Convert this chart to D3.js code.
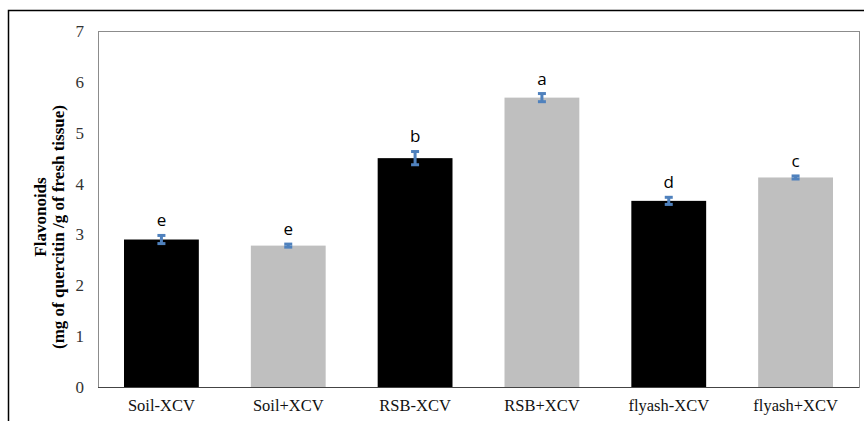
<!DOCTYPE html>
<html>
<head>
<meta charset="utf-8">
<script src="https://cdn.jsdelivr.net/npm/d3@7"></script>
<style>
  html, body { margin: 0; padding: 0; background: #fff; }
  svg { display: block; }
  .serif { font-family: 'Liberation Serif', 'Times New Roman', serif; }
</style>
</head>
<body>
<svg id="chart" width="864" height="421"></svg>
<script>
// Flavonoid content per treatment
const categories = ["Soil-XCV", "Soil+XCV", "RSB-XCV", "RSB+XCV", "flyash-XCV", "flyash+XCV"];
const flavonoids = [2.90, 2.78, 4.50, 5.69, 3.66, 4.12];
const errors = [0.08, 0.03, 0.13, 0.08, 0.07, 0.03];
const letters = ["e", "e", "b", "a", "d", "c"];
const yTicks = [0, 1, 2, 3, 4, 5, 6, 7];
const barColors = ["#000000", "#bfbfbf"];

const svg = d3.select("#chart");
const plot = { left: 98, top: 31, right: 859, bottom: 387 };

const x = d3.scaleBand()
  .domain(categories)
  .range([plot.left, plot.right])
  .paddingInner(0.41)
  .paddingOuter(0.205);

const y = d3.scaleLinear()
  .domain([0, 7])
  .range([plot.bottom, plot.top]);

// outer frame of the chart
svg.append("rect")
  .attr("x", 8.5).attr("y", 10.5)
  .attr("width", 900).attr("height", 500)
  .attr("fill", "none")
  .attr("stroke", "#000")
  .attr("stroke-width", 1.5);

// plot area border
svg.append("rect")
  .attr("x", plot.left + 0.5).attr("y", plot.top + 0.5)
  .attr("width", plot.right - plot.left)
  .attr("height", plot.bottom - plot.top)
  .attr("fill", "none")
  .attr("stroke", "#8c8c8c")
  .attr("stroke-width", 1);

// bars
svg.append("g").selectAll("rect")
  .data(categories)
  .join("rect")
  .attr("x", d => x(d))
  .attr("y", (d, i) => y(flavonoids[i]))
  .attr("width", x.bandwidth())
  .attr("height", (d, i) => y(0) - y(flavonoids[i]))
  .attr("fill", (d, i) => barColors[i % 2]);

// baseline
svg.append("line")
  .attr("x1", plot.left).attr("x2", plot.right)
  .attr("y1", y(0) + 0.5).attr("y2", y(0) + 0.5)
  .attr("stroke", "#444").attr("stroke-width", 1);

// error bars
const eb = svg.append("g")
  .attr("stroke", "#4f81bd")
  .attr("stroke-width", 3);
categories.forEach((c, i) => {
  const cx = x(c) + x.bandwidth() / 2;
  const hi = y(flavonoids[i] + errors[i]);
  const lo = y(flavonoids[i] - errors[i]);
  eb.append("line").attr("x1", cx).attr("x2", cx).attr("y1", hi).attr("y2", lo);
  eb.append("line").attr("x1", cx - 4).attr("x2", cx + 4).attr("y1", hi).attr("y2", hi);
  eb.append("line").attr("x1", cx - 4).attr("x2", cx + 4).attr("y1", lo).attr("y2", lo);
});

// significance letters
svg.append("g").selectAll("text")
  .data(categories)
  .join("text")
  .attr("x", d => x(d) + x.bandwidth() / 2)
  .attr("y", (d, i) => y(flavonoids[i] + errors[i]) - 15)
  .attr("dy", "0.35em")
  .attr("text-anchor", "middle")
  .style("font-family", "'Open Sans', 'Liberation Sans', sans-serif")
  .style("font-size", "17px")
  .attr("fill", "#000")
  .text((d, i) => letters[i]);

// y axis labels
const yAxis = d3.axisLeft(y).tickValues(yTicks).tickSize(0).tickPadding(14).tickFormat(d3.format("d"));
const yg = svg.append("g")
  .attr("transform", `translate(${plot.left},0)`)
  .call(yAxis);
yg.select(".domain").remove();
yg.attr("font-family", null).attr("font-size", null);
yg.selectAll("text")
  .attr("class", "serif")
  .style("font-size", "17px")
  .attr("fill", "#333");

// x axis labels
const xAxis = d3.axisBottom(x).tickSize(0).tickPadding(12);
const xg = svg.append("g")
  .attr("transform", `translate(0,${plot.bottom})`)
  .call(xAxis);
xg.select(".domain").remove();
xg.attr("font-family", null).attr("font-size", null);
xg.selectAll("text")
  .attr("class", "serif")
  .style("font-size", "16.5px")
  .attr("fill", "#111");

// y axis title, two lines
const titleLines = ["Flavonoids", "(mg of quercitin /g of fresh tissue)"];
const titleCenters = [217, 227];
const titleX = [40, 58];
titleLines.forEach((t, i) => {
  svg.append("text")
    .attr("class", "serif")
    .attr("transform", `translate(${titleX[i]},${titleCenters[i]}) rotate(-90)`)
    .attr("text-anchor", "middle")
    .attr("dy", "0.35em")
    .style("font-weight", "bold")
    .style("font-size", "17px")
    .attr("fill", "#000")
    .text(t);
});
</script>
</body>
</html>
